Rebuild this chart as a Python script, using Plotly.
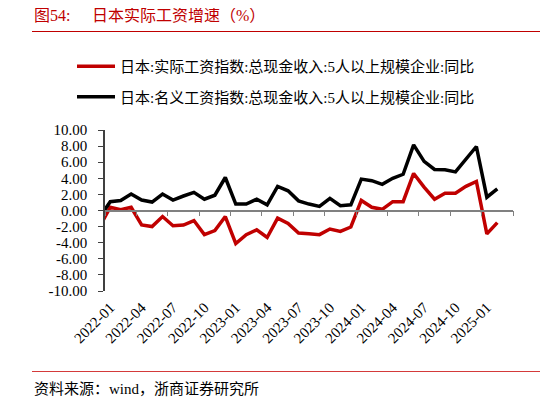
import plotly.graph_objects as go

# months on the category axis (2021-12 only feeds the clipped first segment)
months = [f"{y}-{m:02d}" for y in (2021, 2022, 2023, 2024, 2025) for m in range(1, 13)]
months = months[11:11 + 41]  # 2021-12 .. 2025-04

real_wage = [
    -2.0,
    0.4, 0.1, 0.4, -1.8, -2.0, -0.75, -1.9, -1.8, -1.25, -3.0, -2.5, -0.75,
    -4.1, -3.0, -2.4, -3.35, -0.95, -1.6, -2.8, -2.9, -3.0, -2.3, -2.6, -2.05,
    1.25, 0.4, 0.15, 1.1, 1.1, 4.6, 2.9, 1.4, 2.15, 2.15, 3.0, 3.6,
    -2.9, -1.5,
]
nominal_wage = [
    -0.8,
    1.1, 1.25, 2.05, 1.3, 1.05, 2.05, 1.3, 1.8, 2.25, 1.4, 1.9, 4.1,
    0.8, 0.8, 1.4, 0.7, 3.0, 2.45, 1.2, 0.8, 0.5, 1.5, 0.6, 0.7,
    3.9, 3.7, 3.25, 4.0, 4.5, 8.15, 6.1, 5.1, 5.05, 4.8, 6.35, 7.95,
    1.65, 2.7,
]

label_months = ["2022-01", "2022-04", "2022-07", "2022-10", "2023-01", "2023-04",
                "2023-07", "2023-10", "2024-01", "2024-04", "2024-07", "2024-10",
                "2025-01"]
y_ticks = [-10, -8, -6, -4, -2, 0, 2, 4, 6, 8, 10]

names = [
    "日本:实际工资指数:总现金收入:5人以上规模企业:同比",
    "日本:名义工资指数:总现金收入:5人以上规模企业:同比",
]

# the page body has an 8px margin, so the figure is drawn 8px in from the corner
OFF = 8
W, H = 548 - OFF, 402 - OFF
L, R, T, B = 105 - OFF, 35, 130 - OFF, 111
pw, ph = W - L - R, H - T - B


def px_x(x):
    # screen pixel (reference picture) -> paper coordinate
    return (x - OFF - L) / pw


def px_y(y):
    return (H - B - (y - OFF)) / ph


serif = "Liberation Serif, Noto Sans CJK SC"
cjk = "Liberation Serif, Noto Sans CJK SC"

fig = go.Figure()
fig.add_trace(go.Scatter(x=months[:len(real_wage)], y=real_wage, mode="lines",
                         name=names[0], legendgroup="a",
                         line=dict(color="#C00000", width=3.5)))
fig.add_trace(go.Scatter(x=months[:len(nominal_wage)], y=nominal_wage, mode="lines",
                         name=names[1], legendgroup="b",
                         line=dict(color="#000000", width=3.5)))
# empty trace so the zero-line axis gets drawn
fig.add_trace(go.Scatter(x=[], y=[], xaxis="x2", showlegend=False, hoverinfo="skip"))

n_cat = len(months)
fig.update_layout(
    width=W, height=H,
    margin=dict(l=L, r=R, t=T, b=B),
    paper_bgcolor="white", plot_bgcolor="white",
    showlegend=True,
    legend=dict(x=px_x(72), y=px_y(50), xanchor="left", yanchor="top",
                font=dict(family=cjk, size=15, color="#000000"),
                tracegroupgap=8, itemwidth=38, bgcolor="rgba(0,0,0,0)"),
    xaxis=dict(type="category", categoryorder="array", categoryarray=months,
               range=[0.5, n_cat - 1.5], tickmode="array", tickvals=label_months,
               ticktext=label_months, tickangle=-45, ticks="", showline=False,
               showgrid=False, zeroline=False, ticklabelstandoff=4,
               tickfont=dict(family=serif, size=15, color="#000000")),
    xaxis2=dict(overlaying="x", anchor="free", position=0.5, type="linear",
                range=[0.5, n_cat - 1.5],
                tickvals=[i + 0.5 for i in range(0, n_cat - 1, 3)],
                ticks="outside", ticklen=5, tickcolor="#808080", tickwidth=1,
                showline=True, linecolor="#808080", linewidth=1.5,
                showticklabels=False, showgrid=False, zeroline=False),
    yaxis=dict(range=[-10, 10], tickmode="array", tickvals=y_ticks,
               ticktext=[f"{v:.2f}" for v in y_ticks], ticks="outside", ticklen=5,
               tickcolor="#404040", showline=True, linecolor="#404040", linewidth=1.5,
               showgrid=False, zeroline=False, ticklabelstandoff=8,
               tickfont=dict(family=serif, size=15, color="#000000")),
    shapes=[
        dict(type="line", xref="paper", yref="paper", x0=px_x(32), x1=px_x(548),
             y0=px_y(31.5), y1=px_y(31.5), line=dict(color="#C00000", width=1)),
        dict(type="line", xref="paper", yref="paper", x0=px_x(32), x1=px_x(548),
             y0=px_y(371.5), y1=px_y(371.5), line=dict(color="#D43A3A", width=1)),
    ],
    annotations=[
        dict(text="图54:", x=px_x(32), y=px_y(15), xref="paper", yref="paper",
             xanchor="left", yanchor="middle", showarrow=False,
             font=dict(family=cjk, size=16, color="#C00000")),
        dict(text="日本实际工资增速（%）", x=px_x(90), y=px_y(15), xref="paper",
             yref="paper", xanchor="left", yanchor="middle", showarrow=False,
             font=dict(family=cjk, size=16, color="#C00000")),
        dict(text="资料来源：wind，浙商证券研究所", x=px_x(32), y=px_y(389),
             xref="paper", yref="paper", xanchor="left", yanchor="middle",
             showarrow=False, font=dict(family=cjk, size=15, color="#000000")),
    ],
)

fig.write_html("out.html")
